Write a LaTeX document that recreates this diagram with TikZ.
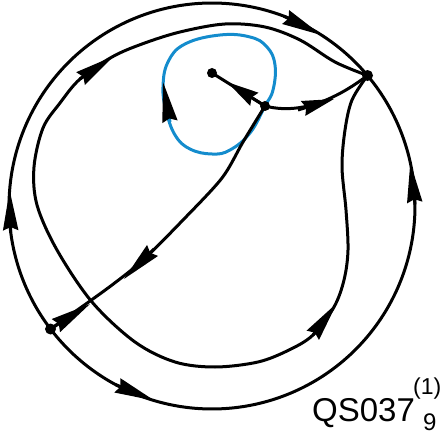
\documentclass[tikz,border=0pt]{standalone}
\usepackage{fontspec}
\setmainfont{Liberation Sans}
\usetikzlibrary{arrows.meta}
\definecolor{cyc}{RGB}{20,140,205}
\tikzset{
  orb/.style={line width=3pt, black},
  tipa/.style={-{Stealth[length=40pt,width=15pt,inset=3pt]}},
  tipb/.style={-{Stealth[length=32pt,width=15pt,inset=3pt]}},
  dotn/.style={circle, fill=black, draw=none, inner sep=0pt, minimum size=11pt},
}
\begin{document}
\begin{tikzpicture}[x=1pt,y=-1pt]
\useasboundingbox (0,0) rectangle (444,435);
% points
\coordinate (S) at ({212+203*cos(217.3)},{206-203*sin(217.3)});
\coordinate (K) at ({212+203*cos(40)},{206-203*sin(40)});
\coordinate (P) at (265,106);
\coordinate (C) at (212,73);
\coordinate (aL0) at ({212+203*cos(187.5)},{206-203*sin(187.5)});
\coordinate (aL1) at ({212+203*cos(175.5)},{206-203*sin(175.5)});
\coordinate (aT0) at ({212+203*cos(69.3)},{206-203*sin(69.3)});
\coordinate (aT1) at ({212+203*cos(57.3)},{206-203*sin(57.3)});
\coordinate (aB0) at ({212+203*cos(241.6)},{206-203*sin(241.6)});
\coordinate (aB1) at ({212+203*cos(253.6)},{206-203*sin(253.6)});
\coordinate (aR0) at ({212+203*cos(360.4)},{206-203*sin(360.4)});
\coordinate (aR1) at ({212+203*cos(372.4)},{206-203*sin(372.4)});
% outer circle, two arcs from S to K
\draw[orb] plot[domain=0:1, samples=150]
  ({212+203*cos(217.3-177.3*\x)},{206-203*sin(217.3-177.3*\x)});
\draw[orb] plot[domain=0:1, samples=150]
  ({212+203*cos(217.3+182.7*\x)},{206-203*sin(217.3+182.7*\x)});
\draw[orb, tipa] (aL0) -- (aL1);
\draw[orb, tipa] (aT0) -- (aT1);
\draw[orb, tipa] (aB0) -- (aB1);
\draw[orb, tipa] (aR0) -- (aR1);
% big loop through K
\draw[orb] plot[smooth, tension=0.55] coordinates {(K) (335,62) (300,40) (265,27) (225,24) (180,32) (142,44) (112,57) (80,79) (60,103) (43,128) (34,167) (37,205) (57,250) (92,302) (135,342) (175,362) (215,367) (258,362) (289,350) (313,335) (334,307) (344,280) (348,250) (346,210) (342,167) (345,130) (352,100) (K)};
\draw[orb, tipa] (80,79) -- (114,56);
\draw[orb, tipa] (313,335) -- (337,303);
% blue cycle
\draw[cyc, line width=3pt] plot[smooth cycle, tension=0.7] coordinates {(220,35) (250,37) (267,47) (275,65) (273,90) (P) (250,133) (230,150) (212,154) (190,149) (175,135) (166,110) (163,87) (168,62) (185,44)};
\draw[cyc, line width=3pt, -{Stealth[length=40pt,width=15pt,inset=3pt,color=black]}] (170,122) -- (163,82);
% separatrix P to S
\draw[orb] plot[smooth] coordinates {(P) (243,142) (222,178) (183,220) (143,260) (108,288) (S)};
\draw[orb, tipa] (154,249) -- (124,279);
\draw[orb, tipa] (S) -- (90,304);
% C -- P
\draw[orb] (C) -- (P);
\draw[orb, tipb] (P) -- (227,82);
% P to K
\draw[orb] (P) .. controls (300,115) and (335,100) .. (K);
\draw[orb, tipb] (298,110) -- (334,99);
% dots
\node[dotn] (Sd) at (S) {};
\node[dotn] (Kd) at (K) {};
\node[dotn, minimum size=10pt] (Pd) at (P) {};
\node[dotn, minimum size=10pt] (Cd) at (C) {};
% label
\node[anchor=base west, inner sep=0pt, font=\fontsize{33}{36}\selectfont] (lab) at (312,421) {QS037};
\node[anchor=base west, inner sep=0pt, font=\fontsize{23}{25}\selectfont] (sup) at (413,394) {(1)};
\node[anchor=base west, inner sep=0pt, font=\fontsize{24}{26}\selectfont] (sub) at (423,430) {9};
\end{tikzpicture}
\end{document}
